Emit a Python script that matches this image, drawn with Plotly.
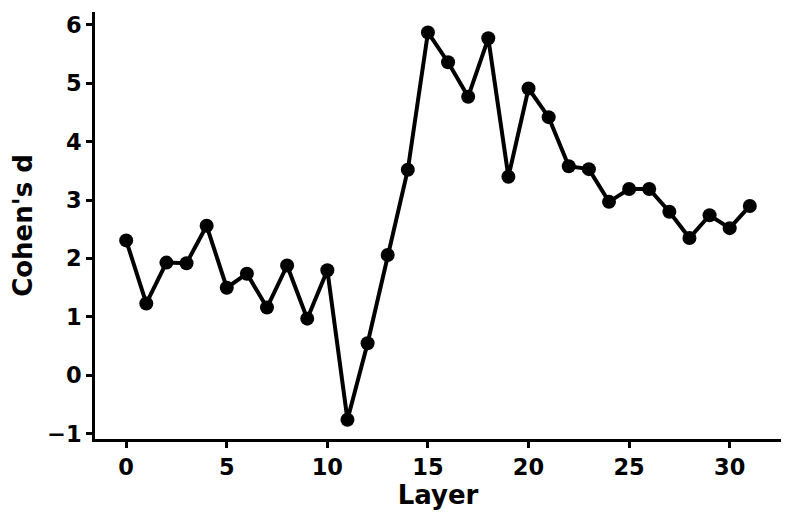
import plotly.graph_objects as go

# Cohen's d per layer
layers = list(range(32))
cohens_d = [
    2.31, 1.23, 1.93, 1.92, 2.56, 1.50, 1.74, 1.16, 1.88, 0.97,
    1.80, -0.76, 0.55, 2.06, 3.52, 5.87, 5.36, 4.77, 5.77, 3.40,
    4.91, 4.42, 3.58, 3.53, 2.97, 3.19, 3.19, 2.80, 2.35, 2.74,
    2.52, 2.90,
]
x_ticks = [0, 5, 10, 15, 20, 25, 30]
y_ticks = [-1, 0, 1, 2, 3, 4, 5, 6]

fig = go.Figure()
fig.add_trace(
    go.Scatter(
        x=layers,
        y=cohens_d,
        mode="lines+markers",
        line=dict(color="black", width=4),
        marker=dict(color="black", size=14),
        showlegend=False,
    )
)

axis_font = dict(family="DejaVu Sans", size=22.5, color="black", weight="bold")
title_font = dict(family="DejaVu Sans", size=26, color="black", weight="bold")

# the page puts the plot 8px in from the corner, margins allow for that
fig.update_layout(
    width=794,
    height=522,
    margin=dict(l=87, r=21, t=4, b=91),
    plot_bgcolor="white",
    paper_bgcolor="white",
)

fig.update_xaxes(
    range=[-1.55, 32.55],
    tickvals=x_ticks,
    showgrid=False,
    zeroline=False,
    showline=True,
    linecolor="black",
    linewidth=2.5,
    ticks="outside",
    ticklen=6,
    tickwidth=2.5,
    tickcolor="black",
    tickfont=axis_font,
    title=dict(text="Layer", font=title_font, standoff=7),
)
fig.update_yaxes(
    range=[-1.09, 6.22],
    tickvals=y_ticks,
    showgrid=False,
    zeroline=False,
    showline=True,
    linecolor="black",
    linewidth=2.5,
    ticks="outside",
    ticklen=6,
    tickwidth=2.5,
    tickcolor="black",
    tickfont=axis_font,
    title=dict(text="Cohen's d", font=title_font, standoff=13),
)

fig.write_html("out.html")
